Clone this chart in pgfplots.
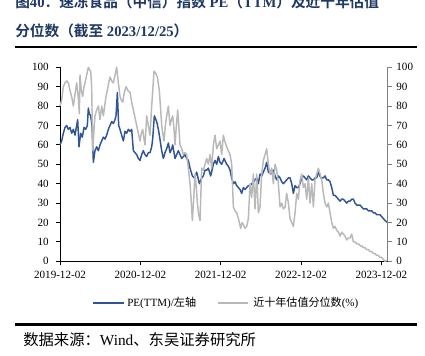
\documentclass[border=0pt]{standalone}
\usepackage{pgfplots}
\pgfplotsset{compat=1.18}
\usepackage{fontspec}
\setmainfont{Liberation Serif}
\newfontfamily\cjk{Noto Sans CJK SC}[BoldFont={Noto Sans CJK SC Bold}]
\definecolor{peblue}{RGB}{47,85,151}
\definecolor{pctgray}{RGB}{185,185,185}
\definecolor{titleblue}{RGB}{31,56,100}
\definecolor{raxis}{RGB}{128,128,128}
\pgfplotstableread{
x y
0 60
5 62
10 66
15 69
20 70
25 68
30 69
35 66
40 68
45 65
50 70
53 73
57 59
62 66
67 64
72 69
77 68
82 70
85 79
88 76
92 75
96 70
100 51
105 57
110 59
115 57
120 60
125 62
130 64
135 63
140 65
145 68
150 70
155 72
160 71
165 73
168 75
172 87
176 70
180 68
185 65
190 62
195 67
200 66
205 68
210 67
215 68
220 57
225 56
230 55
235 53
240 52
245 55
250 57
255 55
260 54
265 56
270 56
275 59
278 63
283 75
290 72
295 68
298 65
305 57
310 53
315 56
320 58
325 61
330 56
335 58
338 60
345 53
350 55
355 57
360 55
365 53
370 54
375 55
380 53
385 52
390 48
397 44
403 43
410 46
418 40
425 43
430 44
435 47
440 47
445 48
452 44
460 50
465 52
470 50
475 54
480 51
485 50
492 53
500 50
505 49
510 47
515 43
520 40
525 41
530 39
535 38
540 37
545 35
550 38
555 37
560 38
565 39
570 39
575 40
580 41
585 42
590 43
595 40
600 45
605 44
610 46
615 48
620 51
625 46
632 45
640 47
645 44
650 42
655 44
660 43
665 41
670 40
675 41
680 42
685 43
690 43
695 40
700 35
705 39
710 38
715 38
720 40
725 43
730 44
735 43
740 42
745 44
750 43
755 42
760 42
765 43
770 43
775 46
782 43
790 43
795 44
800 42
805 42
810 41
815 38
820 34
825 34
830 33
835 32
840 31
845 32
850 32
855 31
860 30
865 31
870 31
875 32
880 32
885 30
890 29
895 29
900 29
905 28
910 27
915 27
920 27
925 26
930 26
935 26
940 25
945 25
950 24
955 24
960 24
965 23
970 22
975 21
982 20
}\pedata
\pgfplotstableread{
x y
0 80
5 83
10 90
15 92
20 93
25 92
30 88
35 85
40 80
45 86
50 92
55 84
58 76
60 96
64 88
68 85
72 90
75 92
80 96
85 100
88 99
92 98
95 90
98 57
102 68
105 75
110 78
115 80
120 73
125 80
130 75
134 80
138 85
142 88
146 92
150 95
155 93
160 92
165 96
170 100
175 92
180 85
184 83
188 82
193 87
198 90
204 88
210 87
215 82
220 78
225 74
230 70
235 66
240 62
244 66
248 68
252 63
255 60
260 75
265 70
270 65
275 80
279 90
282 98
287 97
292 95
298 88
302 78
305 70
309 65
312 62
316 70
320 75
325 80
330 70
334 73
338 75
342 68
345 60
349 70
353 78
357 68
360 60
365 58
370 55
375 56
380 55
385 48
390 40
394 30
397 21
401 32
405 45
409 38
412 30
416 24
420 21
425 48
430 47
435 50
440 53
445 50
450 55
455 48
460 60
465 65
470 58
475 60
480 62
485 55
490 65
494 62
498 60
502 58
505 57
510 55
515 50
520 28
525 26
530 25
535 22
542 17
546 20
550 19
555 17
560 18
565 22
570 40
575 33
580 45
585 27
590 45
595 25
600 28
605 45
610 52
615 55
620 58
625 50
630 45
635 48
640 40
645 50
650 47
655 40
660 28
665 30
670 27
675 28
680 35
685 30
690 22
695 20
700 18
705 25
710 35
715 32
720 42
725 45
730 38
735 40
740 32
745 43
750 30
755 40
760 28
765 42
770 45
775 48
780 45
785 42
790 35
795 30
800 28
805 30
810 25
815 20
820 17
825 18
830 16
835 15
840 13
845 15
850 14
855 13
860 11
865 12
870 12
875 14
880 10
885 10
890 9
895 9
900 8
905 8
910 7
915 7
920 6
925 6
930 5
935 5
940 4
945 4
950 3
955 3
960 2
965 2
970 1
975 0
982 0.5
}\pctdata
\begin{document}
\begin{tikzpicture}[x=0.75pt,y=0.75pt]
\useasboundingbox (0,0) rectangle (425,356);
\fill[white] (0,0) rectangle (425,356);
% title
\node[anchor=base west,inner sep=0,text=titleblue,font=\fontsize{11}{13}\selectfont\bfseries] at (15,348)
 {{\cjk 图}40{\cjk ：速冻食品（中信）指数} PE{\cjk （}TTM{\cjk ）及近十年估值}};
\node[anchor=base west,inner sep=0,text=titleblue,font=\fontsize{11}{13}\selectfont\bfseries] at (15,319)
 {{\cjk 分位数（截至} 2023/12/25{\cjk ）}};
\draw[line width=1.6pt,black] (15,309.3) -- (417,309.3);
% left axis
\begin{axis}[at={(45pt,71.025pt)},anchor=south west,scale only axis,
  width=245.8pt,height=145.5pt,
  xmin=0,xmax=983,ymin=0,ymax=100,
  axis y line*=left,axis x line*=bottom,
  xtick={0,241,482,723,964},
  xticklabels={2019-12-02,2020-12-02,2021-12-02,2022-12-02,2023-12-02},
  ytick={0,10,...,100},
  tick align=outside,major tick length=3pt,
  tick style={black,line width=0.6pt},
  axis line style={black,line width=0.6pt},
  ticklabel style={font=\fontsize{8.3}{9}\selectfont},
  /pgf/number format/assume math mode=true,
  xticklabel style={yshift=-1pt},
  yticklabel style={xshift=-2pt},
  clip=false]
\addplot[peblue,line width=1.1pt,line join=round] table[x=x,y=y]{\pedata};
\end{axis}
% right axis
\begin{axis}[at={(45pt,71.025pt)},anchor=south west,scale only axis,
  width=245.8pt,height=145.5pt,
  xmin=0,xmax=983,ymin=0,ymax=100,
  axis y line*=right,axis x line=none,
  ytick={0,10,...,100},
  tick align=outside,major tick length=3pt,
  tick style={raxis,line width=0.6pt},
  y axis line style={raxis,line width=0.8pt},
  ticklabel style={font=\fontsize{8.3}{9}\selectfont},
  /pgf/number format/assume math mode=true,
  clip=false]
\addplot[pctgray,line width=1.1pt,line join=round] table[x=x,y=y]{\pctdata};
\end{axis}
% legend
\draw[peblue,line width=1.2pt] (92.7,53) -- (124,53);
\node[anchor=west,inner sep=0,font=\fontsize{8.3}{9}\selectfont] at (127,53) {PE(TTM)/{\cjk 左轴}};
\draw[pctgray,line width=1.2pt] (218,53) -- (248,53);
\node[anchor=west,inner sep=0,font=\fontsize{8.3}{9}\selectfont] at (253,53) {{\cjk 近十年估值分位数}(\%)};
\draw[line width=1.6pt,black] (15,31.5) -- (417,31.5);
\node[anchor=base west,inner sep=0,font=\fontsize{11.5}{13}\selectfont] at (23,10)
 {{\cjk 数据来源：}Wind{\cjk 、东吴证券研究所}};
\end{tikzpicture}
\end{document}
